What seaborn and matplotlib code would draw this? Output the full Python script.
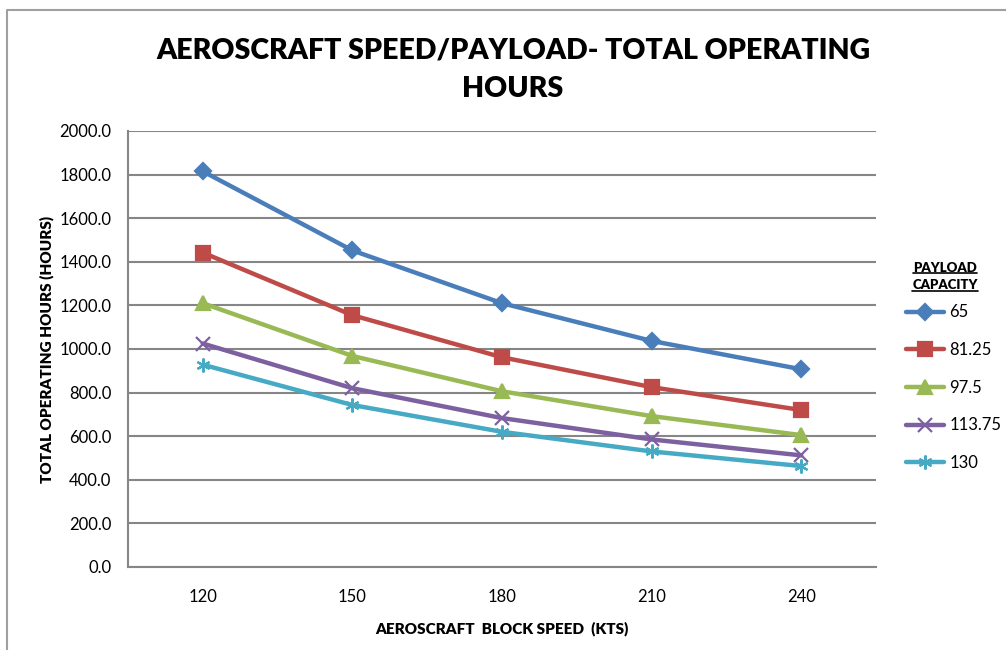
import matplotlib
matplotlib.use("Agg")
import matplotlib.pyplot as plt
from matplotlib.lines import Line2D
import seaborn as sns
import pandas as pd

speeds = ["120", "150", "180", "210", "240"]
payloads = ["65", "81.25", "97.5", "113.75", "130"]
hours_65 = [1815, 1452, 1210, 1037, 907]
hours_81 = [1442, 1155, 962, 825, 720]
hours_97 = [1210, 968, 806, 692, 605]
hours_113 = [1025, 820, 683, 585, 512]
hours_130 = [928, 743, 620, 530, 463]

colors = ["#4A7EBB", "#BE4B48", "#98B954", "#7D60A0", "#46AAC5"]
markers = ["D", "s", "^", "x", (6, 2, 0)]
msizes = [8, 10, 10, 10, 10]

df = pd.DataFrame({
    "speed": speeds * 5,
    "payload": sum([[p] * 5 for p in payloads], []),
    "hours": hours_65 + hours_81 + hours_97 + hours_113 + hours_130,
})

sns.set_theme(style="white")
plt.rcParams["font.family"] = ["Lato", "DejaVu Sans"]

fig = plt.figure(figsize=(10.06, 6.5), dpi=100)
ax = fig.add_axes([0.1272, 0.1277, 0.7436, 0.6708])

for i, p in enumerate(payloads):
    sub = df[df["payload"] == p]
    sns.lineplot(data=sub, x="speed", y="hours", ax=ax, color=colors[i],
                 marker=markers[i], markersize=msizes[i], linewidth=3.2,
                 markeredgecolor=colors[i], markeredgewidth=1.6,
                 sort=False, legend=False)

ax.set_xlim(-0.5, 4.5)
ax.set_ylim(0, 2000)
ax.set_yticks(range(0, 2001, 200))
ax.set_yticklabels([f"{v:.1f}" for v in range(0, 2001, 200)], fontsize=12)
ax.set_xticks(range(5))
ax.set_xticklabels(speeds, fontsize=12)
ax.set_xticks([-0.5, 0.5, 1.5, 2.5, 3.5, 4.5], minor=True)
ax.tick_params(axis="x", which="major", length=0, pad=16)
ax.tick_params(axis="x", which="minor", length=6, width=1.5, color="#868686", direction="out")
ax.tick_params(axis="y", length=6, width=1.5, color="#868686", direction="out", pad=6)
for lab in ax.get_xticklabels() + ax.get_yticklabels():
    lab.set_color("black")
ax.grid(axis="y", color="#868686", linewidth=1.5)
ax.set_axisbelow(True)
for s in ["top", "right"]:
    ax.spines[s].set_visible(False)
for s in ["left", "bottom"]:
    ax.spines[s].set_color("#868686")
    ax.spines[s].set_linewidth(1.5)

ax.set_xlabel("AEROSCRAFT  BLOCK SPEED  (KTS)", fontsize=11, fontweight="heavy",
              labelpad=12, color="black")
ax.set_ylabel("TOTAL OPERATING HOURS (HOURS)", fontsize=11, fontweight="heavy",
              labelpad=4, color="black")

fig.text(0.51, 0.893, "AEROSCRAFT SPEED/PAYLOAD- TOTAL OPERATING\nHOURS",
         ha="center", va="center", fontsize=20.5, fontweight="heavy",
         linespacing=1.6, color="black")

handles = [Line2D([], [], color=colors[i], marker=markers[i], markersize=msizes[i],
                  linewidth=3.2, markeredgewidth=1.6) for i in range(5)]
leg = fig.legend(handles, payloads, loc="upper left", bbox_to_anchor=(0.894, 0.542),
                 frameon=False, fontsize=12, handlelength=2.3, handletextpad=0.3,
                 labelspacing=1.3, borderaxespad=0)
for t in leg.get_texts():
    t.set_color("black")

# underlined legend title
t1 = fig.text(0.9395, 0.588, "PAYLOAD", ha="center", va="center", fontsize=9.5,
              fontweight="heavy", color="black")
t2 = fig.text(0.9395, 0.561, "CAPACITY", ha="center", va="center", fontsize=9.5,
              fontweight="heavy", color="black")
fig.canvas.draw()
r = fig.canvas.get_renderer()
for t in (t1, t2):
    bb = t.get_window_extent(r).transformed(fig.transFigure.inverted())
    fig.add_artist(Line2D([bb.x0, bb.x1], [bb.y0 + 0.001, bb.y0 + 0.001],
                          color="black", linewidth=1.2, transform=fig.transFigure))

# outer chart border
fig.add_artist(Line2D([0.007, 0.007, 1.0], [0.0, 0.985, 0.985], color="#A0A0A0",
                      linewidth=1.5, transform=fig.transFigure))

fig.savefig("out.png", dpi=100)
